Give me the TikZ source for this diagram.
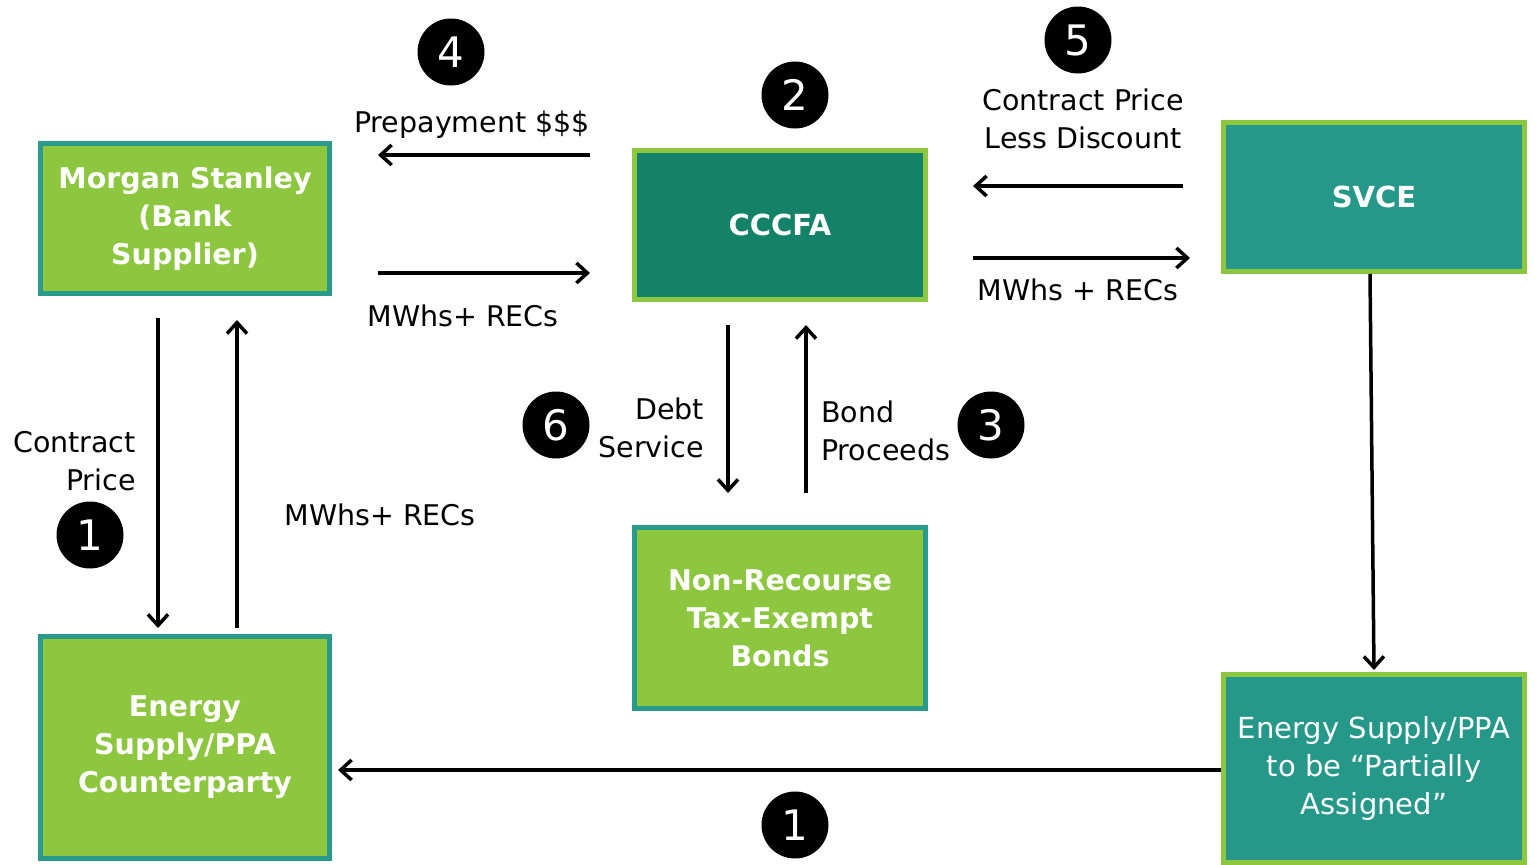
\documentclass[tikz,border=0pt]{standalone}
\usepackage{fontspec}
\setmainfont{DejaVu Sans}
\usetikzlibrary{arrows.meta}
\definecolor{lgreen}{HTML}{8DC63F}
\definecolor{dteal}{HTML}{138269}
\definecolor{mteal}{HTML}{25988A}
\definecolor{bteal}{HTML}{2A9A8B}
\begin{document}
\begin{tikzpicture}[x=1pt,y=-1pt,
  gbox/.style={draw=bteal,fill=lgreen,line width=5pt,text=white,font=\fontsize{28.5}{38}\selectfont\bfseries,align=center,inner sep=0pt},
  tbox/.style={draw=lgreen,line width=5pt,text=white,align=center,inner sep=0pt},
  arr/.style={line width=3.5pt,-{Straight Barb[length=11pt,width=20pt,line width=3.5pt]}},
  lbl/.style={font=\fontsize{28.5}{38}\selectfont,inner sep=0pt},
  num/.style={circle,fill=black,text=white,minimum size=67pt,inner sep=0pt,font=\fontsize{42}{42}\selectfont}]
\useasboundingbox[fill=white] (0,0) rectangle (1535,865);
% boxes
\node[gbox,minimum width=289pt,minimum height=150pt] (ms) at (185,218.5) {Morgan Stanley\\(Bank\\Supplier)};
\node[tbox,fill=dteal,minimum width=291pt,minimum height=149pt,font=\fontsize{29}{38}\selectfont\bfseries] (cc) at (780,225) {CCCFA};
\node[tbox,fill=mteal,minimum width=301pt,minimum height=149pt,font=\fontsize{29}{38}\selectfont\bfseries] (sv) at (1374,197) {SVCE};
\node[gbox,minimum width=291pt,minimum height=181pt] (bd) at (780,618) {Non-Recourse\\Tax-Exempt\\Bonds};
\node[gbox,minimum width=289pt,minimum height=222pt] (el) at (185,747.5) {Energy\\Supply/PPA\\Counterparty};
\node[tbox,fill=mteal,minimum width=301pt,minimum height=188pt,font=\fontsize{29}{38}\selectfont] (er) at (1374,768.5) {Energy Supply/PPA\\to be “Partially\\Assigned”};
% coordinates for arrow ends
\coordinate (p1) at (590,155); \coordinate (p2) at (378,155);
\coordinate (m1) at (378,273); \coordinate (m2) at (590,273);
\coordinate (c1) at (1183,186); \coordinate (c2) at (973,186);
\coordinate (r1) at (973,258); \coordinate (r2) at (1190,258);
\coordinate (v1) at (158,318); \coordinate (v2) at (158,628);
\coordinate (w1) at (237,628); \coordinate (w2) at (237,320);
\coordinate (d1) at (728,325); \coordinate (d2) at (728,493);
\coordinate (b1) at (806,493); \coordinate (b2) at (806,325);
\coordinate (s1) at (1370,274); \coordinate (s2) at (1374,670);
\coordinate (e1) at (1221,770); \coordinate (e2) at (338,770);
\draw[arr] (p1) -- (p2);
\draw[arr] (m1) -- (m2);
\draw[arr] (c1) -- (c2);
\draw[arr] (r1) -- (r2);
\draw[arr] (v1) -- (v2);
\draw[arr] (w1) -- (w2);
\draw[arr] (d1) -- (d2);
\draw[arr] (b1) -- (b2);
\draw[arr] (s1) -- (s2);
\draw[arr,line width=4.5pt] (e1) -- (e2);
% labels
\node[lbl] (lp) at (472,125) {Prepayment \$\$\$};
\node[lbl] (lm) at (463,316) {MWhs+ RECs};
\node[lbl,align=center] (lc) at (1083,119) {Contract Price\\Less Discount};
\node[lbl] (lr) at (1078,290) {MWhs + RECs};
\node[lbl,align=right,anchor=east] (lcp) at (136,461) {Contract\\Price};
\node[lbl] (lw) at (380,515) {MWhs+ RECs};
\node[lbl,align=right,anchor=east] (ld) at (704,428) {Debt\\Service};
\node[lbl,align=left,anchor=west] (lb) at (821,431) {Bond\\Proceeds};
% numbers
\node[num] (n4) at (451,52) {4};
\node[num] (n2) at (795,95) {2};
\node[num] (n5) at (1078,40) {5};
\node[num] (n1a) at (90,535) {1};
\node[num] (n6) at (556,425) {6};
\node[num] (n3) at (991,425) {3};
\node[num] (n1b) at (795,825) {1};
\end{tikzpicture}
\end{document}
